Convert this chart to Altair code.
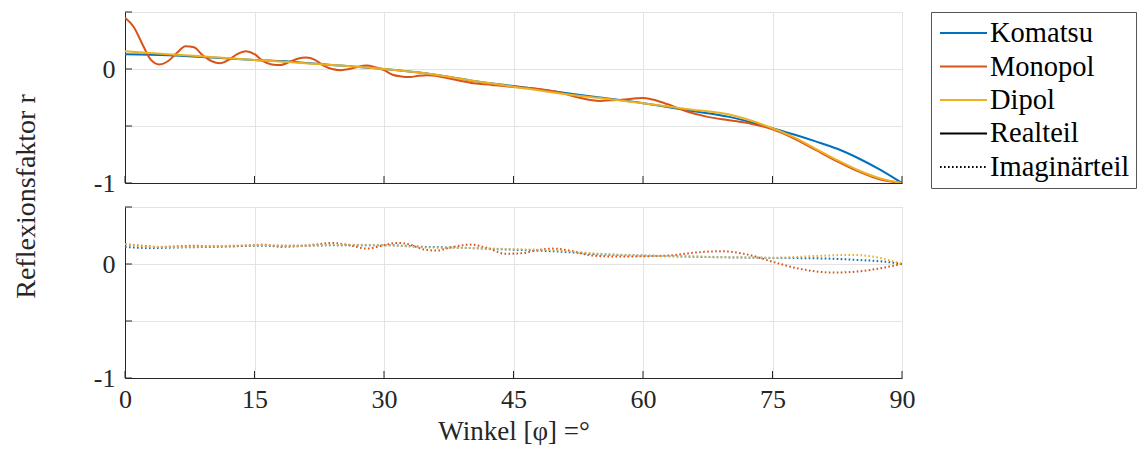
import altair as alt
import pandas as pd

# ---------------- data ----------------
SERIES = ["Komatsu", "Monopol", "Dipol"]
COLORS = ["#0072BD", "#D95319", "#EDB120"]

X_TICKS = [0, 15, 30, 45, 60, 75, 90]
Y_TICKS = [-1, -0.5, 0, 0.5]

# Realteil
KOM_RE_X = [0, 5, 10, 15, 20, 25, 30, 35, 40, 45, 50, 55, 60, 65, 70, 75, 77.5, 80, 82.5, 85, 87.5, 90]
KOM_RE_Y = [0.13, 0.12, 0.10, 0.08, 0.06, 0.03, 0.0, -0.04, -0.10, -0.15, -0.20, -0.25, -0.30, -0.36,
            -0.42, -0.52, -0.575, -0.635, -0.70, -0.785, -0.885, -1.0]

MONO_RE_X = [0, 1, 2, 3, 4, 5, 6, 7, 8, 9, 10, 11, 12, 13, 14, 15, 16, 17, 18, 19, 20, 21, 22, 23, 24,
             25, 26, 27, 28, 29, 30, 31, 32, 33, 34, 35, 36, 37, 38, 40, 42.5, 45, 47.5, 50, 52.5, 55,
             57.5, 60, 62.5, 65, 67.5, 70, 72.5, 75, 77.5, 80, 82.5, 85, 87.5, 90]
MONO_RE_Y = [0.45, 0.37, 0.22, 0.08, 0.04, 0.07, 0.14, 0.20, 0.19, 0.12, 0.07, 0.05, 0.08, 0.13, 0.155,
             0.13, 0.07, 0.04, 0.035, 0.06, 0.09, 0.10, 0.08, 0.03, 0.0, -0.01, 0.0, 0.02, 0.03, 0.015,
             -0.01, -0.05, -0.065, -0.07, -0.06, -0.055, -0.06, -0.075, -0.09, -0.12, -0.14, -0.158,
             -0.17, -0.20, -0.25, -0.28, -0.27, -0.255, -0.30, -0.37, -0.42, -0.45, -0.48, -0.53,
             -0.61, -0.71, -0.81, -0.90, -0.97, -1.0]

DIP_RE_X = [0, 5, 10, 15, 20, 25, 30, 35, 40, 45, 50, 55, 60, 65, 70, 75, 77.5, 80, 82.5, 85, 87.5, 90]
DIP_RE_Y = [0.155, 0.13, 0.105, 0.08, 0.055, 0.03, 0.0, -0.04, -0.10, -0.155, -0.21, -0.255, -0.30,
            -0.35, -0.40, -0.52, -0.60, -0.70, -0.80, -0.89, -0.96, -1.0]

# Imaginärteil
KOM_IM_X = [0, 3, 6, 10, 15, 20, 25, 30, 35, 40, 45, 50, 55, 60, 65, 70, 75, 80, 85, 88, 90]
KOM_IM_Y = [0.15, 0.14, 0.145, 0.15, 0.16, 0.16, 0.165, 0.165, 0.15, 0.14, 0.125, 0.11, 0.085, 0.074,
            0.065, 0.058, 0.053, 0.05, 0.035, 0.02, 0.0]

MONO_IM_X = [0, 2, 4, 6, 8, 10, 12, 14, 16, 18, 20, 22, 24, 26, 28, 30, 31.5, 33, 34.5, 36, 38, 40,
             42, 44, 46, 48, 49.5, 52, 54, 57, 60, 63, 66, 69, 72, 75, 78, 82, 85, 88, 90]
MONO_IM_Y = [0.175, 0.16, 0.15, 0.155, 0.16, 0.155, 0.155, 0.16, 0.17, 0.15, 0.155, 0.17, 0.185, 0.165,
             0.135, 0.165, 0.185, 0.17, 0.13, 0.118, 0.15, 0.17, 0.14, 0.09, 0.095, 0.125, 0.135, 0.11,
             0.075, 0.065, 0.068, 0.075, 0.10, 0.112, 0.085, 0.02, -0.04, -0.075, -0.065, -0.03, 0.0]

DIP_IM_X = [0, 3, 6, 10, 15, 20, 25, 30, 35, 40, 45, 50, 55, 60, 65, 70, 75, 80, 84, 87, 90]
DIP_IM_Y = [0.175, 0.15, 0.15, 0.155, 0.165, 0.16, 0.17, 0.165, 0.145, 0.14, 0.13, 0.12, 0.09, 0.074,
            0.068, 0.06, 0.055, 0.07, 0.08, 0.06, 0.0]

LEG_LABELS = ["Komatsu", "Monopol", "Dipol", "Realteil", "Imaginärteil"]
LEG_COLORS = ["#0072BD", "#D95319", "#EDB120", "#000000", "#000000"]
LEG_DOTTED = [False, False, False, False, True]

FONT = "Liberation Serif"
AX = "#262626"
GRID = "#e3e3e3"
W, H = 777, 171


def frame(xs, ys, name):
    return pd.DataFrame({"x": xs, "y": ys, "series": name})


re_data = [frame(KOM_RE_X, KOM_RE_Y, "Komatsu"), frame(MONO_RE_X, MONO_RE_Y, "Monopol"),
           frame(DIP_RE_X, DIP_RE_Y, "Dipol")]
im_data = [frame(KOM_IM_X, KOM_IM_Y, "Komatsu"), frame(MONO_IM_X, MONO_IM_Y, "Monopol"),
           frame(DIP_IM_X, DIP_IM_Y, "Dipol")]


def panel(datas, dotted, bottom):
    x_enc = alt.X(
        "x:Q",
        scale=alt.Scale(domain=[0, 90], nice=False),
        axis=alt.Axis(values=X_TICKS, labels=bottom, ticks=False, grid=True, gridColor=GRID,
                      domainColor=AX, labelFont=FONT, labelFontSize=26, labelColor=AX,
                      labelPadding=8, labelFlush=False,
                      title="Winkel [φ] =°" if bottom else None,
                      titleFont=FONT, titleFontSize=27, titleFontWeight="normal",
                      titleColor=AX, titlePadding=6),
    )
    yax = dict(values=Y_TICKS, ticks=False, grid=True, gridColor=GRID, domainColor=AX,
               labelFont=FONT, labelFontSize=26, labelColor=AX, labelPadding=10,
               labelExpr="datum.value == 0 ? '0' : (datum.value == -1 ? '-1' : '')",
               titleFont=FONT, titleFontSize=28, titleFontWeight="normal", titleColor=AX)
    if bottom:
        yax["title"] = None
    else:
        yax["title"] = "Reflexionsfaktor r"
        yax["titleY"] = 184
        yax["titlePadding"] = 53
    y_enc = alt.Y("y:Q", scale=alt.Scale(domain=[-1, 0.5], nice=False), axis=alt.Axis(**yax))

    layers = []
    for df, col in zip(datas, COLORS):
        kw = dict(strokeWidth=2, interpolate="monotone", clip=True, color=col)
        if dotted:
            kw["strokeDash"] = [1.6, 2.4]
        layers.append(alt.Chart(df).mark_line(**kw).encode(x=x_enc, y=y_enc))
    xt = alt.Chart(pd.DataFrame({"x": X_TICKS})).mark_rule(color=AX, strokeWidth=1).encode(
        x=x_enc, y=alt.value(H), y2=alt.value(H - 7))
    yt = alt.Chart(pd.DataFrame({"y": Y_TICKS})).mark_rule(color=AX, strokeWidth=1).encode(
        y=y_enc, x=alt.value(0), x2=alt.value(7))
    layers += [xt, yt]
    return alt.layer(*layers).properties(width=W, height=H)


top = panel(re_data, False, False)
bot = panel(im_data, True, True)

leg_df = pd.DataFrame({"label": LEG_LABELS, "color": LEG_COLORS, "dotted": LEG_DOTTED})
leg_y = alt.Y("label:N", sort=LEG_LABELS, scale=alt.Scale(type="point", padding=0.63), axis=None)
leg_base = alt.Chart(leg_df)
leg_solid = leg_base.transform_filter("!datum.dotted").mark_rule(strokeWidth=2).encode(
    y=leg_y, x=alt.value(9), x2=alt.value(56), color=alt.Color("color:N", scale=None))
leg_dot = leg_base.transform_filter("datum.dotted").mark_rule(
    strokeWidth=2, strokeDash=[1.6, 2.4]).encode(
    y=leg_y, x=alt.value(9), x2=alt.value(56), color=alt.Color("color:N", scale=None))
leg_text = leg_base.mark_text(align="left", baseline="middle", font=FONT, fontSize=28.5,
                              color="#000000").encode(y=leg_y, x=alt.value(59), text="label:N")
legend = alt.layer(leg_solid, leg_dot, leg_text).properties(
    width=205, height=176, view=alt.ViewBackground(stroke="#555555", strokeWidth=1))

chart = alt.concat(top, legend, bot, columns=2, spacing={"row": 19, "column": 29},
                   bounds="flush").properties(
    padding={"left": 11, "top": 11, "right": 0, "bottom": 0}
).configure_view(strokeWidth=0).configure(background="white")

chart.save("out.html", embed_options={"renderer": "svg", "actions": False})
